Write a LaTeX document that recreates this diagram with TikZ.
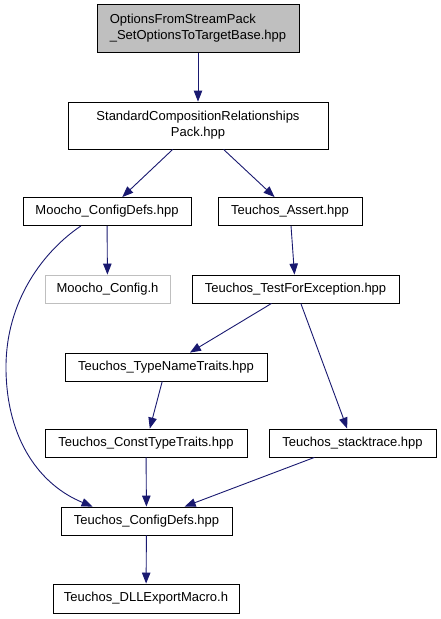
\documentclass[tikz,border=0pt]{standalone}
\usepackage{fontspec}
\setmainfont{Liberation Sans}
\usetikzlibrary{arrows.meta}
\definecolor{edgeblue}{HTML}{191970}
\definecolor{boxgray}{HTML}{BFBFBF}
\tikzset{
  filebox/.style={draw=black, line width=0.9pt, inner sep=0pt, minimum height=28pt,
    font=\fontsize{13pt}{16pt}\selectfont, anchor=center},
  dep/.style={draw=edgeblue, line width=0.9pt, -{Triangle[length=11pt,width=8.5pt]}},
}
\begin{document}
\begin{tikzpicture}[x=1pt,y=-1pt]
\useasboundingbox (0,0) rectangle (441,619);
\node[filebox, fill=boxgray, minimum width=202pt, minimum height=48pt, align=left] (top) at (198,28.5)
  {OptionsFromStreamPack\\\_SetOptionsToTargetBase.hpp};
\node[filebox, minimum width=260pt, minimum height=47pt, align=center] (std) at (198,125.5)
  {StandardCompositionRelationships\\Pack.hpp};
\node[filebox, minimum width=168pt] (mcd) at (107,211.5) {Moocho\_ConfigDefs.hpp};
\node[filebox, minimum width=144pt] (tas) at (290,211.5) {Teuchos\_Assert.hpp};
\node[filebox, draw=boxgray, minimum width=125pt] (mch) at (107.5,289) {Moocho\_Config.h};
\node[filebox, minimum width=207pt] (tfe) at (295.5,289) {Teuchos\_TestForException.hpp};
\node[filebox, minimum width=202pt] (tnt) at (166,367) {Teuchos\_TypeNameTraits.hpp};
\node[filebox, minimum width=202pt] (ctt) at (146,443) {Teuchos\_ConstTypeTraits.hpp};
\node[filebox, minimum width=167pt] (stk) at (352.5,443) {Teuchos\_stacktrace.hpp};
\node[filebox, minimum width=171pt] (tcd) at (146.5,521) {Teuchos\_ConfigDefs.hpp};
\node[filebox, minimum width=186pt, minimum height=29pt] (dll) at (146,598.5) {Teuchos\_DLLExportMacro.h};

\draw[dep] (top) -- (std);
\draw[dep] (std) -- (mcd);
\draw[dep] (std) -- (tas);
\draw[dep] (mcd) -- (mch);
\draw[dep] (mcd.209) .. controls (45,250) and (5,300) .. (6,370)
  .. controls (7,440) and (40,485) .. (tcd.165);
\draw[dep] (tas) -- (tfe);
\draw[dep] (tfe) -- (tnt);
\draw[dep] (tfe) -- (stk);
\draw[dep] (tnt) -- (ctt);
\draw[dep] (ctt) -- (tcd);
\draw[dep] (stk) -- (tcd);
\draw[dep] (tcd) -- (dll);
\end{tikzpicture}
\end{document}
